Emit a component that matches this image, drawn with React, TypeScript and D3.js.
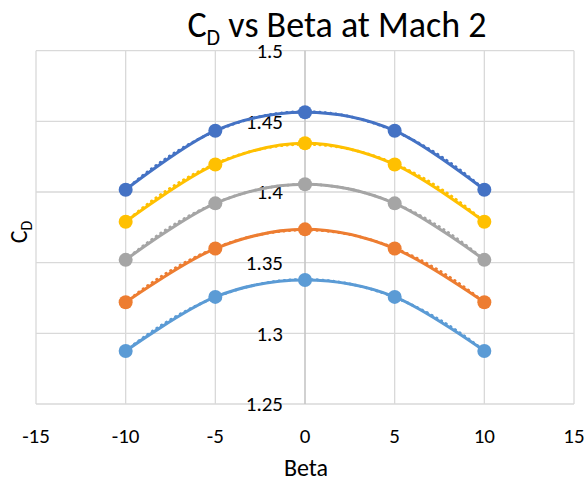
import React from "react";
import * as d3 from "d3";

const betas = [-10, -5, 0, 5, 10];
const seriesNames = ["S1", "S2", "S3", "S4", "S5"];
const seriesColors = ["#4472C4", "#FFC000", "#A5A5A5", "#ED7D31", "#5B9BD5"];
const s1 = [1.4016, 1.4434, 1.4564, 1.4434, 1.4016];
const s2 = [1.379, 1.4195, 1.4345, 1.4195, 1.379];
const s3 = [1.352, 1.392, 1.4055, 1.392, 1.352];
const s4 = [1.322, 1.36, 1.3736, 1.36, 1.322];
const s5 = [1.2875, 1.3258, 1.3377, 1.3258, 1.2875];
const seriesValues = [s1, s2, s3, s4, s5];
const xTicks = [-15, -10, -5, 0, 5, 10, 15];
const yTicks = [1.25, 1.3, 1.35, 1.4, 1.45, 1.5];

const W = 587;
const H = 485;
const FONT = "Carlito, Lato, 'Open Sans', sans-serif";

// least-squares quadratic fit (Excel polynomial trendline, order 2)
function quadFit(xs: number[], ys: number[]) {
  const n = xs.length;
  let s0 = n, s1x = 0, s2x = 0, s3x = 0, s4x = 0, t0 = 0, t1 = 0, t2 = 0;
  for (let i = 0; i < n; i++) {
    const x = xs[i], y = ys[i];
    s1x += x; s2x += x * x; s3x += x * x * x; s4x += x * x * x * x;
    t0 += y; t1 += x * y; t2 += x * x * y;
  }
  const A = [
    [s0, s1x, s2x, t0],
    [s1x, s2x, s3x, t1],
    [s2x, s3x, s4x, t2],
  ];
  for (let c = 0; c < 3; c++) {
    let p = c;
    for (let r = c + 1; r < 3; r++) if (Math.abs(A[r][c]) > Math.abs(A[p][c])) p = r;
    [A[c], A[p]] = [A[p], A[c]];
    for (let r = 0; r < 3; r++) {
      if (r === c) continue;
      const f = A[r][c] / A[c][c];
      for (let k = c; k < 4; k++) A[r][k] -= f * A[c][k];
    }
  }
  const a = A[0][3] / A[0][0], b = A[1][3] / A[1][1], cc = A[2][3] / A[2][2];
  return (x: number) => a + b * x + cc * x * x;
}

export default function App() {
  const x = d3.scaleLinear().domain([-15, 15]).range([36, 574]);
  const y = d3.scaleLinear().domain([1.25, 1.5]).range([404, 50.7]);
  const line = d3
    .line<[number, number]>()
    .x((d) => x(d[0]))
    .y((d) => y(d[1]))
    .curve(d3.curveCardinal.tension(0));
  const straight = d3
    .line<[number, number]>()
    .x((d) => x(d[0]))
    .y((d) => y(d[1]));

  return (
    <svg
      width={W}
      height={H}
      style={{ position: "absolute", left: 0, top: 0, background: "#fff" }}
      fontFamily={FONT}
    >
      {/* gridlines */}
      {yTicks.map((t) => (
        <line key={"gy" + t} x1={x(-15)} x2={x(15)} y1={y(t)} y2={y(t)} stroke="#d9d9d9" strokeWidth={1.3} />
      ))}
      {xTicks.map((t) => (
        <line
          key={"gx" + t}
          x1={x(t)}
          x2={x(t)}
          y1={y(1.5)}
          y2={y(1.25)}
          stroke={t === 0 ? "#c6c6c6" : "#d9d9d9"}
          strokeWidth={t === 0 ? 1.6 : 1.3}
        />
      ))}

      {/* y tick labels */}
      {yTicks.map((t) => (
        <text key={"ty" + t} x={x(0) - 22} y={y(t)} dy="0.35em" textAnchor="end" fontSize={21} fill="#000">
          {String(t)}
        </text>
      ))}
      {/* x tick labels */}
      {xTicks.map((t) => (
        <text key={"tx" + t} x={x(t)} y={443} textAnchor="middle" fontSize={21} fill="#000">
          {String(t)}
        </text>
      ))}

      {/* trendlines (dotted) */}
      {seriesValues.map((vals, i) => {
        const f = quadFit(betas, vals);
        const pts: [number, number][] = d3.range(-10, 10.001, 0.25).map((b) => [b, f(b)]);
        return (
          <path
            key={"tr" + i}
            d={straight(pts) || ""}
            fill="none"
            stroke={seriesColors[i]}
            strokeWidth={2.8}
            strokeDasharray="0.5 5"
            strokeLinecap="round"
          />
        );
      })}

      {/* series lines */}
      {seriesValues.map((vals, i) => (
        <path
          key={"ln" + seriesNames[i]}
          d={line(betas.map((b, j) => [b, vals[j]] as [number, number])) || ""}
          fill="none"
          stroke={seriesColors[i]}
          strokeWidth={3}
          strokeLinejoin="round"
        />
      ))}

      {/* markers */}
      {seriesValues.map((vals, i) =>
        betas.map((b, j) => (
          <circle key={"m" + i + "-" + j} cx={x(b)} cy={y(vals[j])} r={7} fill={seriesColors[i]} />
        ))
      )}

      {/* title */}
      <text x={337} y={37} textAnchor="middle" fontSize={36} fill="#000">
        C<tspan fontSize={22} dy={8}>D</tspan>
        <tspan dy={-8}> vs Beta at Mach 2</tspan>
      </text>

      {/* axis titles */}
      <text x={306} y={476} textAnchor="middle" fontSize={24} fill="#000">
        Beta
      </text>
      <text transform={`translate(27, ${232}) rotate(-90)`} textAnchor="middle" fontSize={24} fill="#000">
        C<tspan fontSize={16} dy={5}>D</tspan>
      </text>
    </svg>
  );
}
